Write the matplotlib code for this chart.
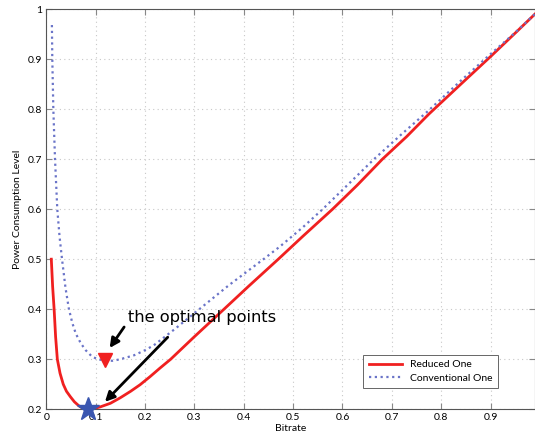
import numpy as np
import matplotlib
matplotlib.use('Agg')
import matplotlib.pyplot as plt

# values
reduced_x = [0.0103, 0.013, 0.016, 0.019, 0.0225, 0.028, 0.0345, 0.041, 0.049, 0.057,
             0.066, 0.075, 0.083, 0.095, 0.11, 0.13, 0.15, 0.171, 0.19, 0.21, 0.23,
             0.252, 0.30, 0.36, 0.41, 0.47, 0.52, 0.58, 0.63, 0.681, 0.73, 0.775,
             0.84, 0.9, 0.95, 0.99]
reduced_y = [0.5, 0.445, 0.4, 0.345, 0.3, 0.272, 0.25, 0.236, 0.225, 0.215,
             0.207, 0.202, 0.2, 0.201, 0.205, 0.212, 0.223, 0.236, 0.249, 0.265, 0.282,
             0.3, 0.345, 0.4, 0.446, 0.5, 0.546, 0.6, 0.648, 0.7, 0.745, 0.79,
             0.85, 0.905, 0.952, 0.99]

conv_x = [0.0115, 0.0123, 0.0144, 0.0178, 0.0224, 0.027, 0.032, 0.039, 0.046, 0.053,
          0.06, 0.07, 0.08, 0.093, 0.105, 0.12, 0.135, 0.15, 0.178, 0.2, 0.218,
          0.26, 0.31, 0.37, 0.44, 0.473, 0.52, 0.56, 0.61, 0.664, 0.72, 0.772,
          0.84, 0.9, 0.95, 0.99]
conv_y = [0.968, 0.9, 0.8, 0.7, 0.6, 0.545, 0.5, 0.443, 0.4, 0.372,
          0.351, 0.332, 0.318, 0.305, 0.3, 0.297, 0.297, 0.3, 0.308, 0.318, 0.328,
          0.36, 0.4, 0.448, 0.5, 0.525, 0.564, 0.6, 0.648, 0.7, 0.75, 0.795,
          0.857, 0.91, 0.953, 0.99]

opt_reduced = (0.084, 0.2)
opt_conv = (0.119, 0.298)

plt.rcParams['font.family'] = ['Lato', 'DejaVu Sans']

fig = plt.figure(figsize=(5.35, 4.4), dpi=100)
ax = fig.add_axes([0.0864, 0.0698, 0.9136, 0.9097])

ax.plot(reduced_x, reduced_y, color='#f02020', lw=2.0, label='Reduced One')
ax.plot(conv_x, conv_y, color='#6a74c8', lw=1.6, ls=(0, (1, 1.6)), label='Conventional One')

ax.plot(*opt_conv, marker='v', color='#f02020', ms=10, ls='none', clip_on=False)
ax.plot(*opt_reduced, marker='*', color='#3a56b0', ms=17, ls='none', clip_on=False,
        zorder=5)

arrowprops = dict(arrowstyle='-|>', color='black', lw=2.0, mutation_scale=14)
ax.annotate('', xy=(0.1253, 0.318), xytext=(0.161, 0.369), arrowprops=arrowprops)
ax.annotate('', xy=(0.115, 0.211), xytext=(0.25, 0.348), arrowprops=arrowprops)
ax.text(0.165, 0.383, 'the optimal points', fontsize=11.7, family='DejaVu Sans',
        va='center', ha='left')

ax.set_xlim(0, 0.99)
ax.set_ylim(0.2, 1.0)
ax.set_xticks(np.arange(0, 1.0, 0.1))
ax.set_xticklabels(['0', '0.1', '0.2', '0.3', '0.4', '0.5', '0.6', '0.7', '0.8', '0.9'])
ax.set_yticks(np.arange(0.2, 1.01, 0.1))
ax.set_yticklabels(['0.2', '0.3', '0.4', '0.5', '0.6', '0.7', '0.8', '0.9', '1'])
ax.tick_params(direction='in', top=True, right=True, labelsize=7.5, length=4,
               color='#888888', pad=3)
ax.grid(True, ls=(0, (1, 3)), color='#c8c8c8', lw=0.8)
for s in ax.spines.values():
    s.set_color('#555555')
    s.set_linewidth(0.8)

ax.set_xlabel('Bitrate', fontsize=7.5, labelpad=1)
ax.set_ylabel('Power Consumption Level', fontsize=7.5, labelpad=4)

leg = ax.legend(loc='lower right', bbox_to_anchor=(0.935, 0.04), fontsize=7.5,
                fancybox=False, edgecolor='#666666', framealpha=1,
                handlelength=3.2, borderpad=0.5, labelspacing=0.4)
leg.get_frame().set_linewidth(0.7)

fig.savefig('out.png', dpi=100)
